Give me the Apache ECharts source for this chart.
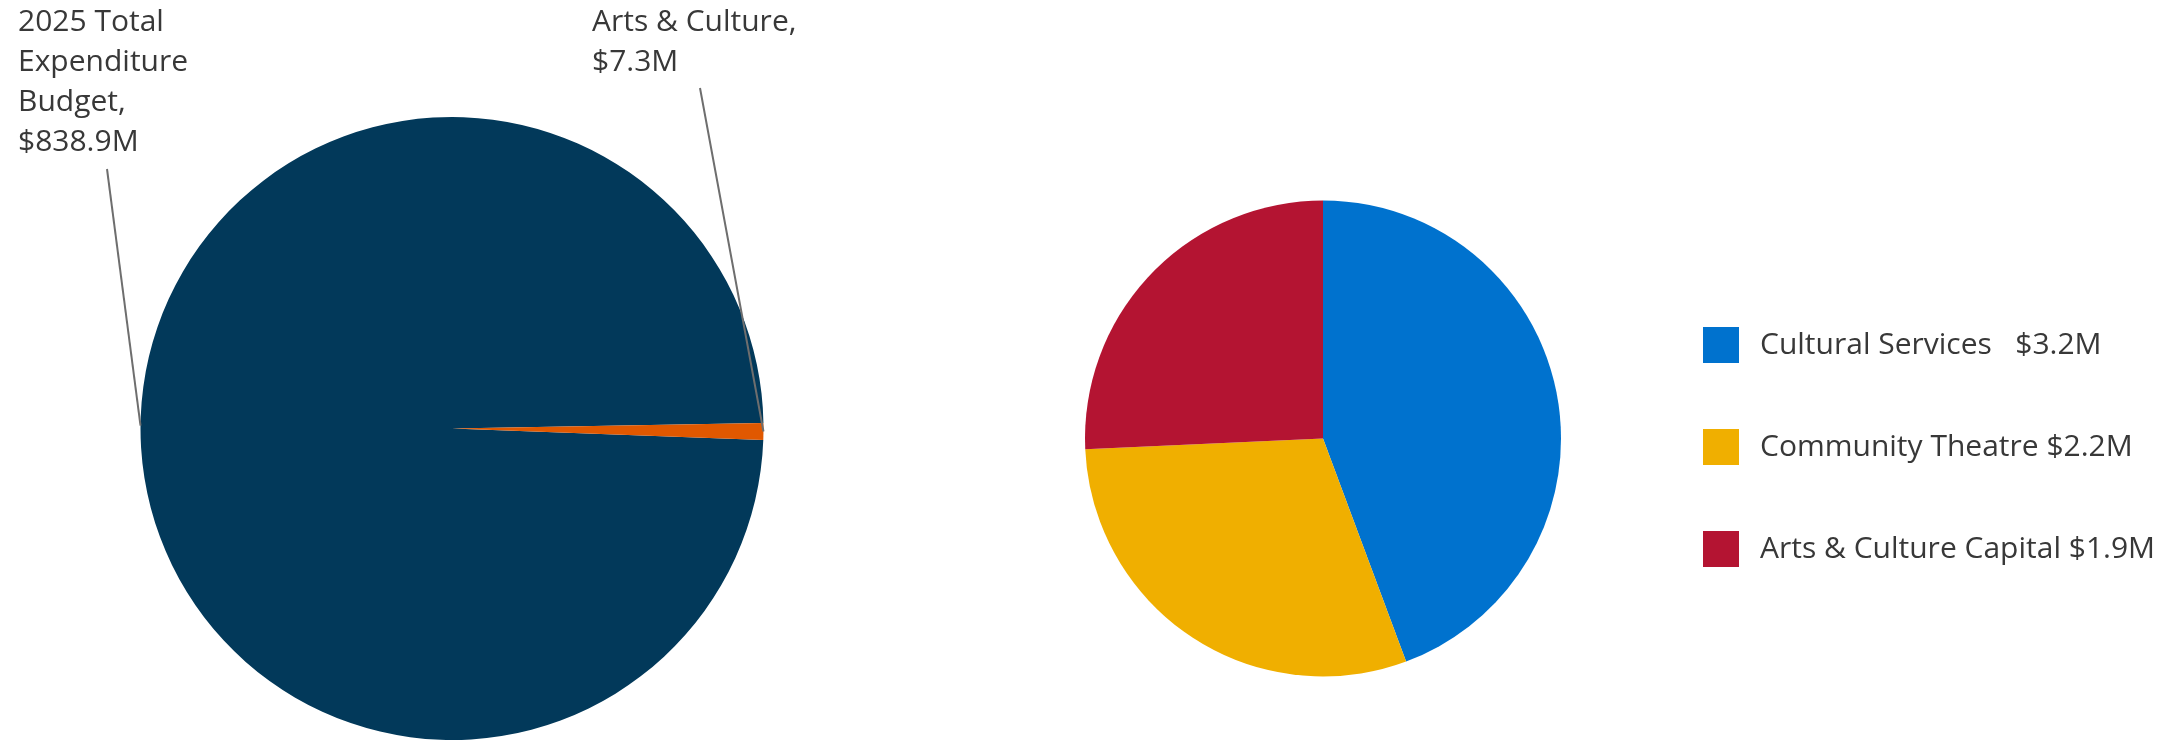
<!DOCTYPE html>
<html>
<head>
<meta charset="utf-8">
<script src="https://cdn.jsdelivr.net/npm/echarts@6/dist/echarts.min.js"></script>
<style>
  html, body { margin: 0; padding: 0; background: #ffffff; }
  #chart { width: 2182px; height: 741px; }
</style>
</head>
<body>
<div id="chart"></div>
<script>
// ---- data ----
const overviewNames = ['2025 Total\nExpenditure\nBudget', 'Arts & Culture'];
const overviewValues = [838.9, 7.3];
const breakdownNames = ['Cultural Services', 'Community Theatre', 'Arts & Culture Capital'];
const breakdownValues = [3.24, 2.19, 1.88];
const legendSeparators = ['   ', ' ', ' '];

const overviewColors = ['#02395A', '#E05800'];
const breakdownColors = ['#0072CE', '#F0AF00', '#B41432'];

const FONT = '"Open Sans", "Noto Sans", sans-serif';

const chart = echarts.init(document.getElementById('chart'), null, { renderer: 'canvas' });

const leftCenter = [452, 428.5];
const leftRadius = 311.5;
const leftStart = -2.1;

// mid-angle edge point of each slice of the left pie (from the data)
function sliceEdgePoint(idx) {
  const sum = overviewValues.reduce((a, b) => a + b, 0);
  let acc = 0;
  for (let i = 0; i < idx; i++) acc += overviewValues[i];
  const midDeg = leftStart - (acc + overviewValues[idx] / 2) / sum * 360;
  const rad = midDeg * Math.PI / 180;
  return [leftCenter[0] + leftRadius * Math.cos(rad), leftCenter[1] - leftRadius * Math.sin(rad)];
}

// label anchor positions (top-left of text) and line ends near text
const labelPlacement = {
  0: { x: 18, y: 2, lineEnd: [107, 169] },
  1: { x: 592, y: 2, lineEnd: [700, 88] }
};

const overviewData = (transparent) => overviewNames.map((n, i) => ({
  name: n,
  value: overviewValues[i],
  itemStyle: { color: transparent ? 'rgba(0,0,0,0)' : overviewColors[i] }
}));

chart.setOption({
  backgroundColor: '#ffffff',
  animation: false,
  legend: {
    data: breakdownNames,
    orient: 'vertical',
    left: 1698,
    top: 322,
    icon: 'rect',
    itemWidth: 36,
    itemHeight: 36,
    itemGap: 66,
    selectedMode: false,
    formatter: function (name) {
      const i = breakdownNames.indexOf(name);
      return name + legendSeparators[i] + '$' + breakdownValues[i].toFixed(1) + 'M';
    },
    textStyle: {
      fontFamily: FONT,
      fontSize: 30,
      color: '#383838',
      padding: [0, 0, 0, 16]
    }
  },
  series: [
    {
      // filled slices
      type: 'pie',
      z: 2,
      center: leftCenter,
      radius: [0, leftRadius],
      startAngle: leftStart,
      clockwise: true,
      silent: true,
      emphasis: { disabled: true },
      itemStyle: { borderWidth: 0 },
      label: { show: false },
      labelLine: { show: false },
      data: overviewData(false)
    },
    {
      // same pie on top, transparent, carrying the labels and leader lines
      type: 'pie',
      z: 5,
      center: leftCenter,
      radius: [0, leftRadius],
      startAngle: leftStart,
      clockwise: true,
      silent: true,
      avoidLabelOverlap: false,
      emphasis: { disabled: true },
      itemStyle: { borderWidth: 0 },
      data: overviewData(true),
      label: {
        show: true,
        position: 'outside',
        fontFamily: FONT,
        fontSize: 30,
        lineHeight: 40,
        color: '#383838',
        formatter: function (p) { return p.name + ',\n$' + p.value.toFixed(1) + 'M'; }
      },
      labelLine: {
        show: true,
        length: 10,
        length2: 10,
        smooth: false,
        lineStyle: { color: '#6e6e6e', width: 2 }
      },
      labelLayout: function (params) {
        const pl = labelPlacement[params.dataIndex];
        const start = sliceEdgePoint(params.dataIndex);
        const end = pl.lineEnd;
        const mid = [(start[0] + end[0]) / 2, (start[1] + end[1]) / 2];
        return {
          x: pl.x,
          y: pl.y,
          align: 'left',
          verticalAlign: 'top',
          labelLinePoints: [start, mid, end]
        };
      }
    },
    {
      type: 'pie',
      center: [1323, 438.5],
      radius: [0, 238],
      startAngle: 90,
      clockwise: true,
      silent: true,
      emphasis: { disabled: true },
      label: { show: false },
      labelLine: { show: false },
      itemStyle: { borderWidth: 0 },
      data: breakdownNames.map((n, i) => ({
        name: n,
        value: breakdownValues[i],
        itemStyle: { color: breakdownColors[i] }
      }))
    }
  ]
});
</script>
</body>
</html>
